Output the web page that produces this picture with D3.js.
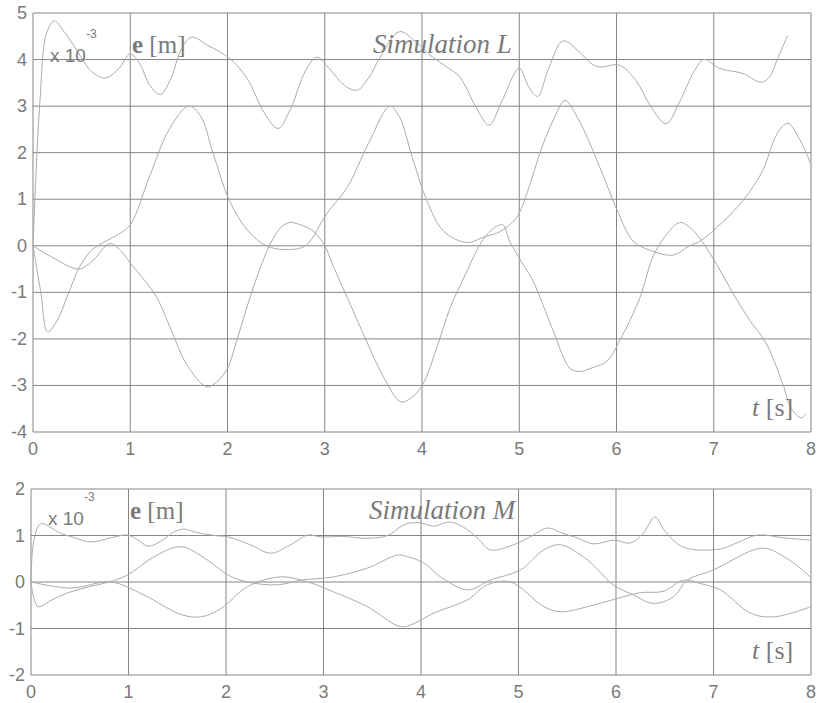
<!DOCTYPE html>
<html>
<head>
<meta charset="utf-8">
<script src="https://cdn.jsdelivr.net/npm/d3@7"></script>
<style>
  body { margin: 0; background: #fff; }
  svg { display: block; }
  .tick-label { font-family: 'Liberation Sans', Arial, sans-serif; font-size: 18px; fill: #7a7a7a; }
  .grid line { stroke: #858585; stroke-width: 1; }
  .serif { font-family: 'Liberation Serif', 'Times New Roman', serif; fill: #7a7a7a; }
</style>
</head>
<body>
<svg id="chart" width="820" height="703"></svg>
<script>
// time ticks shared by both panels
var tTicks = [0, 1, 2, 3, 4, 5, 6, 7, 8];
var lTicks = [5, 4, 3, 2, 1, 0, -1, -2, -3, -4];
var mTicks = [2, 1, 0, -1, -2];

// Simulation L, values in 1e-3 m  ([t, e])
var lTop = [[0,0],[0.03,1.5],[0.07,3.06],[0.14,4.57],[0.22,4.83],[0.32,4.6],[0.45,4.2],[0.6,3.75],[0.74,3.6],[0.88,3.8],[1.0,4.12],[1.1,3.9],[1.2,3.45],[1.31,3.25],[1.42,3.6],[1.52,4.2],[1.63,4.48],[1.8,4.3],[2.02,4.03],[2.2,3.6],[2.38,2.85],[2.52,2.52],[2.65,2.95],[2.8,3.75],[2.92,4.05],[3.05,3.8],[3.2,3.45],[3.33,3.34],[3.45,3.6],[3.57,4.05],[3.77,4.6],[3.95,4.35],[4.11,4.05],[4.25,3.85],[4.39,3.62],[4.55,3.0],[4.69,2.59],[4.82,3.1],[5.0,3.81],[5.1,3.4],[5.19,3.21],[5.3,3.8],[5.45,4.4],[5.6,4.2],[5.75,3.9],[5.83,3.84],[6.03,3.88],[6.2,3.55],[6.35,3.0],[6.51,2.62],[6.65,3.1],[6.8,3.75],[6.9,4.0],[7.06,3.81],[7.3,3.7],[7.49,3.51],[7.58,3.65],[7.65,3.99],[7.76,4.52]];
var lMid = [[0,0],[0.08,-1.0],[0.15,-1.85],[0.25,-1.6],[0.35,-1.1],[0.48,-0.45],[0.6,-0.1],[0.75,0.1],[0.88,0.25],[1.0,0.45],[1.2,1.5],[1.4,2.5],[1.6,3.0],[1.72,2.8],[1.85,2.0],[2.02,0.97],[2.2,0.35],[2.4,0.0],[2.6,-0.08],[2.8,0.0],[3.02,0.69],[3.23,1.25],[3.45,2.2],[3.67,3.0],[3.77,2.76],[3.9,1.9],[4.05,0.97],[4.22,0.32],[4.46,0.07],[4.65,0.2],[4.8,0.3],[4.97,0.6],[5.1,1.25],[5.21,1.98],[5.35,2.7],[5.47,3.12],[5.6,2.75],[5.83,1.68],[6.0,0.8],[6.17,0.1],[6.35,-0.1],[6.58,-0.2],[6.75,0.0],[6.86,0.1],[7.03,0.39],[7.3,0.97],[7.5,1.6],[7.65,2.4],[7.76,2.63],[7.88,2.3],[8.0,1.75]];
var lLow = [[0,0],[0.2,-0.25],[0.47,-0.5],[0.6,-0.35],[0.79,0.05],[0.9,-0.1],[1.0,-0.37],[1.15,-0.75],[1.27,-1.1],[1.42,-1.8],[1.58,-2.55],[1.79,-3.03],[1.9,-2.9],[2.0,-2.63],[2.1,-2.0],[2.23,-1.12],[2.35,-0.4],[2.44,0.04],[2.55,0.4],[2.64,0.5],[2.75,0.45],[2.88,0.32],[3.0,0.0],[3.08,-0.4],[3.25,-1.2],[3.43,-2.05],[3.6,-2.8],[3.78,-3.35],[3.9,-3.25],[4.01,-2.97],[4.15,-2.2],[4.29,-1.33],[4.45,-0.6],[4.6,0.04],[4.72,0.35],[4.83,0.45],[4.9,0.1],[5.04,-0.4],[5.14,-0.75],[5.35,-1.83],[5.52,-2.63],[5.62,-2.7],[5.75,-2.62],[5.9,-2.48],[6.03,-2.05],[6.24,-1.12],[6.37,-0.26],[6.5,0.2],[6.65,0.5],[6.75,0.4],[6.86,0.15],[7.03,-0.4],[7.2,-1.03],[7.37,-1.6],[7.54,-2.1],[7.71,-2.97],[7.8,-3.5],[7.9,-3.7],[7.95,-3.6]];

// Simulation M
var mTop = [[0,0],[0.03,0.9],[0.1,1.25],[0.3,1.05],[0.45,0.95],[0.61,0.86],[0.82,0.95],[0.99,1.01],[1.1,0.9],[1.2,0.77],[1.35,0.9],[1.47,1.08],[1.57,1.14],[1.67,1.08],[1.88,1.0],[2.02,0.97],[2.25,0.8],[2.46,0.62],[2.66,0.8],[2.84,1.01],[2.97,0.97],[3.2,0.98],[3.45,0.94],[3.66,1.0],[3.8,1.2],[3.89,1.27],[4.0,1.27],[4.13,1.2],[4.3,1.29],[4.48,1.12],[4.6,0.9],[4.71,0.69],[4.95,0.8],[5.1,0.95],[5.3,1.16],[5.45,1.05],[5.6,0.95],[5.77,0.82],[5.98,0.9],[6.15,0.84],[6.28,1.05],[6.4,1.4],[6.5,1.1],[6.69,0.75],[7.07,0.71],[7.25,0.85],[7.45,1.01],[7.72,0.95],[8.0,0.9]];
var mMid = [[0,0],[0.07,-0.53],[0.2,-0.4],[0.38,-0.23],[0.6,-0.1],[0.8,0.0],[0.99,0.15],[1.26,0.54],[1.54,0.76],[1.81,0.47],[2.02,0.15],[2.22,0.0],[2.53,-0.06],[2.77,0.04],[3.1,0.11],[3.45,0.3],[3.76,0.58],[3.85,0.55],[4.03,0.41],[4.2,0.11],[4.48,-0.17],[4.71,0.04],[5.02,0.26],[5.26,0.69],[5.43,0.8],[5.71,0.47],[5.97,-0.06],[6.18,-0.28],[6.38,-0.46],[6.59,-0.32],[6.73,0.04],[7.0,0.26],[7.41,0.69],[7.55,0.72],[7.82,0.41],[8.0,0.09]];
var mLow = [[0,0],[0.41,-0.13],[0.82,0.0],[1.16,-0.28],[1.54,-0.7],[1.74,-0.75],[1.95,-0.57],[2.22,-0.1],[2.56,0.11],[2.84,0.0],[3.1,-0.21],[3.45,-0.53],[3.79,-0.96],[3.93,-0.89],[4.13,-0.67],[4.48,-0.38],[4.68,-0.06],[4.92,0.0],[5.26,-0.53],[5.43,-0.64],[5.71,-0.53],[5.97,-0.38],[6.25,-0.23],[6.49,-0.2],[6.69,0.04],[6.86,-0.03],[7.07,-0.17],[7.38,-0.67],[7.62,-0.75],[8.0,-0.53]];

var svg = d3.select('#chart');

function drawPanel(opt) {
  var x = d3.scaleLinear().domain([0, 8]).range([opt.left, opt.right]);
  var y = d3.scaleLinear().domain(d3.extent(opt.yTicks)).range([opt.bottom, opt.top]);
  var g = svg.append('g');

  // grid
  var grid = g.append('g').attr('class', 'grid');
  grid.selectAll('line.v').data(tTicks).enter().append('line')
    .attr('x1', (d) => x(d)).attr('x2', (d) => x(d))
    .attr('y1', opt.top).attr('y2', opt.bottom);
  grid.selectAll('line.h').data(opt.yTicks).enter().append('line')
    .attr('x1', opt.left).attr('x2', opt.right)
    .attr('y1', (d) => y(d)).attr('y2', (d) => y(d));

  // tick labels
  g.selectAll('text.xl').data(tTicks).enter().append('text')
    .attr('class', 'tick-label')
    .attr('x', (d) => x(d)).attr('y', opt.bottom + 23)
    .attr('text-anchor', 'middle')
    .text((d) => d);
  g.selectAll('text.yl').data(opt.yTicks).enter().append('text')
    .attr('class', 'tick-label')
    .attr('x', opt.left - 6).attr('y', (d) => y(d) + 6)
    .attr('text-anchor', 'end')
    .text((d) => d);

  var line = d3.line()
    .x((d) => x(d[0]))
    .y((d) => y(d[1]))
    .curve(d3.curveCatmullRom.alpha(0.5));

  opt.series.forEach((s) => {
    g.append('path').datum(s)
      .attr('fill', 'none')
      .attr('stroke', '#ababab')
      .attr('stroke-width', 1)
      .attr('d', line);
  });

  // labels
  var ex = g.append('text').attr('x', opt.left + 17).attr('y', opt.exY);
  ex.append('tspan').attr('class', 'tick-label').style('font-size', '19px').text('x 10');
  ex.append('tspan').attr('class', 'tick-label').style('font-size', '12px').attr('dy', -24).text('-3');

  var e = g.append('text').attr('class', 'serif').style('font-size', '25px')
    .attr('x', opt.left + 99).attr('y', opt.labelY);
  e.append('tspan').style('font-weight', 'bold').text('e');
  e.append('tspan').text(' [m]');

  g.append('text').attr('class', 'serif')
    .style('font-size', '27px').style('font-style', 'italic')
    .attr('x', opt.titleX).attr('y', opt.labelY)
    .text(opt.title);

  var ts = g.append('text').attr('class', 'serif').style('font-size', '26px')
    .attr('x', 752).attr('y', opt.bottom - 16);
  ts.append('tspan').style('font-style', 'italic').text('t');
  ts.append('tspan').text(' [s]');
}

drawPanel({
  left: 33, right: 811, top: 13, bottom: 432,
  yTicks: lTicks, series: [lTop, lMid, lLow],
  title: 'Simulation L', titleX: 373, labelY: 53, exY: 62
});

drawPanel({
  left: 31, right: 811, top: 489, bottom: 675,
  yTicks: mTicks, series: [mTop, mMid, mLow],
  title: 'Simulation M', titleX: 369, labelY: 519, exY: 525
});
</script>
</body>
</html>
